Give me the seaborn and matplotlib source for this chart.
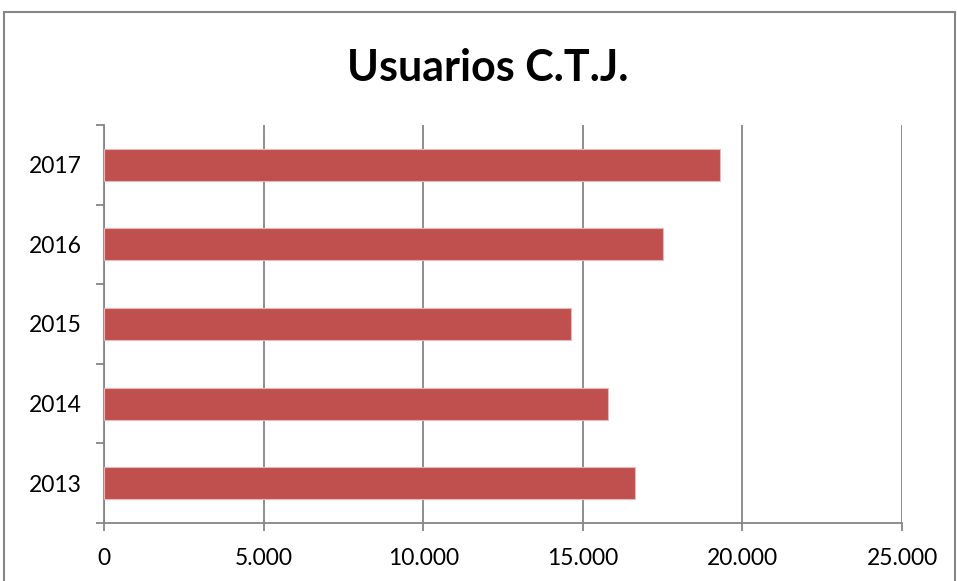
import matplotlib
matplotlib.use("Agg")
import matplotlib.pyplot as plt
import matplotlib.patches as mpatches
import seaborn as sns
import pandas as pd
import numpy as np

# Datos del gráfico
years = ["2017", "2016", "2015", "2014", "2013"]
usuarios = [19310, 17510, 14640, 15790, 16640]

BAR_COLOR = "#C0504D"
GRID_COLOR = "#868686"

df = pd.DataFrame({"year": years, "usuarios": usuarios})

sns.set_theme(style="white")
plt.rcParams["font.family"] = ["Lato", "DejaVu Sans"]

fig = plt.figure(figsize=(9.57, 5.81), dpi=100)
ax = fig.add_axes([104 / 957, 58 / 581, 798 / 957, 398 / 581])

sns.barplot(data=df, y="year", x="usuarios", order=years, orient="h",
            color=BAR_COLOR, width=0.4, saturation=1, ax=ax, zorder=3,
            edgecolor="#E6B9B8", linewidth=0.8)

ax.set_xlim(0, 25000)
ax.set_ylim(4.5, -0.5)
ax.set_xticks(np.arange(0, 25001, 5000))
ax.set_xticklabels([f"{v:,}".replace(",", ".") for v in range(0, 25001, 5000)])
ax.xaxis.grid(True, color=GRID_COLOR, linewidth=1.3, zorder=0)
ax.set_axisbelow(True)
ax.set_xlabel("")
ax.set_ylabel("")

# bordes
for side in ["top", "right"]:
    ax.spines[side].set_visible(False)
for side in ["left", "bottom"]:
    ax.spines[side].set_color(GRID_COLOR)
    ax.spines[side].set_linewidth(1.3)

ax.tick_params(axis="x", which="major", length=6, width=1.3, color=GRID_COLOR,
               direction="out", labelsize=16.5, pad=12, bottom=True,
               labelcolor="black")
ax.tick_params(axis="y", which="major", length=0, labelsize=16.5, pad=16,
               left=True, labelcolor="black")
ax.set_yticks(np.arange(-0.5, 5.0, 1.0), minor=True)
ax.tick_params(axis="y", which="minor", length=6, width=1.3, color=GRID_COLOR,
               direction="out", left=True)

fig.text(488 / 957, 1 - 68 / 581, "Usuarios C.T.J.", ha="center", va="center",
         fontsize=31, fontweight="bold", color="black")

# marco exterior
frame = mpatches.Rectangle((4 / 957, -0.05), 951 / 957, 1.05 - 12 / 581,
                           transform=fig.transFigure, fill=False,
                           edgecolor=GRID_COLOR, linewidth=1.5)
fig.patches.append(frame)

fig.savefig("out.png", dpi=100)
